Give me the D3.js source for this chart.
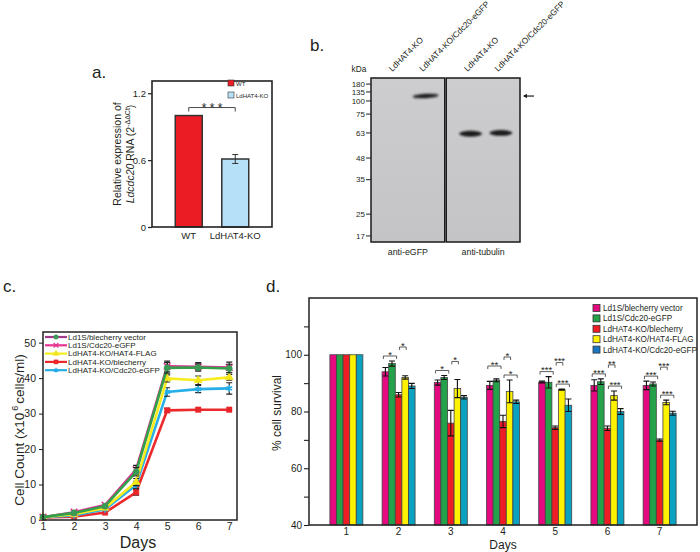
<!DOCTYPE html>
<html><head><meta charset="utf-8">
<script src="https://cdn.jsdelivr.net/npm/d3@7"></script>
<style>body{margin:0;background:#fff}svg{display:block}text{font-family:'Liberation Sans',Arial,sans-serif;fill:#231f20}</style>
</head><body><svg id="fig" width="700" height="552"></svg>
<script>
// ---------- Panel a data ----------
const aGroups = ["WT", "LdHAT4-KO"];
const aValues = [1.0, 0.61];
const aErrors = [0.0, 0.04];
const aColors = ["#ec1c24", "#b5e0f7"];
const aTicks = [0, 0.6, 1.2];
const aSig = "* * *";

// ---------- Panel b data ----------
const bLanes = ["LdHAT4-KO", "LdHAT4-KO/Cdc20-eGFP"];
const bBlots = ["anti-eGFP", "anti-tubulin"];
const bMarkers = [180, 135, 100, 75, 63, 48, 35, 25, 17];
const bMarkerMobility = [0.037, 0.085, 0.14, 0.22, 0.335, 0.488, 0.62, 0.83, 0.963];
const bBandsEGFP = [null, 0.11];
const bBandsTubulin = [0.34, 0.335];

// ---------- Panel c data ----------
const cDays = [1, 2, 3, 4, 5, 6, 7];
const cNames = ["Ld1S/blecherry vector", "Ld1S/Cdc20-eGFP", "LdHAT4-KO/HAT4-FLAG", "LdHAT4-KO/blecherry", "LdHAT4-KO/Cdc20-eGFP"];
const cBlecherryVector = [0.8, 2.0, 3.9, 13.6, 42.9, 43.0, 42.7];
const cCdc20WT = [0.8, 2.2, 4.2, 14.2, 43.3, 43.2, 43.0];
const cHat4Flag = [0.8, 1.6, 3.4, 10.7, 39.9, 39.4, 40.2];
const cKoBlecherry = [0.7, 0.9, 2.1, 7.8, 30.9, 31.1, 31.1];
const cKoCdc20 = [0.8, 1.3, 3.0, 9.9, 36.1, 36.9, 37.1];
const cErrBlecherryVector = [0.2, 0.3, 0.4, 1.2, 1.5, 1.0, 1.2];
const cErrCdc20WT = [0.2, 0.3, 0.4, 1.2, 1.5, 1.2, 1.5];
const cErrHat4Flag = [0.2, 0.2, 0.3, 1.0, 1.0, 1.2, 0.8];
const cErrKoBlecherry = [0.2, 0.2, 0.3, 0.8, 0.6, 0.3, 0.3];
const cErrKoCdc20 = [0.2, 0.2, 0.3, 1.0, 1.2, 1.0, 1.6];
const cYTicks = [0, 10, 20, 30, 40, 50];

// ---------- Panel d data ----------
const dDays = [1, 2, 3, 4, 5, 6, 7];
const dNames = ["Ld1S/blecherry vector", "Ld1S/Cdc20-eGFP", "LdHAT4-KO/blecherry", "LdHAT4-KO/HAT4-FLAG", "LdHAT4-KO/Cdc20-eGFP"];
const dBlecherryVector = [100, 94.0, 90.2, 89.2, 90.4, 89.2, 89.2];
const dCdc20WT = [100, 96.9, 92.0, 91.0, 90.3, 90.5, 89.7];
const dKoBlecherry = [100, 85.9, 75.9, 76.5, 74.3, 74.1, 69.9];
const dHat4Flag = [100, 92.0, 88.1, 87.1, 87.7, 85.6, 83.2];
const dKoCdc20 = [100, 89.0, 85.0, 83.4, 82.2, 80.0, 79.4];
const dErrBlecherryVector = [0, 1.5, 0.9, 1.4, 0.3, 2.0, 1.5];
const dErrCdc20WT = [0, 0.9, 0.7, 0.5, 2.0, 1.0, 0.7];
const dErrKoBlecherry = [0, 0.8, 4.5, 2.2, 0.6, 0.8, 0.4];
const dErrHat4Flag = [0, 0.6, 3.2, 4.0, 0.2, 1.6, 0.8];
const dErrKoCdc20 = [0, 0.9, 0.6, 0.6, 2.2, 1.0, 0.7];
const dYTicks = [40, 50, 60, 70, 80, 90, 100, 110];
const dSigDay   = [2, 2, 3, 3, 4, 4, 4, 5, 5, 5, 6, 6, 6, 7, 7, 7];
const dSigFrom  = [0, 2, 0, 2, 0, 2, 2, 0, 2, 2, 0, 2, 2, 0, 2, 2];
const dSigTo    = [2, 3, 2, 3, 2, 3, 4, 2, 3, 4, 2, 3, 4, 2, 3, 4];
const dSigLabel = ["*", "*", "*", "*", "**", "*", "*", "***", "***", "***", "***", "**", "***", "***", "***", "***"];

// ================== drawing ==================
const svg = d3.select("#fig");
const ink = "#231f20";

function panelLabel(txt, x, y) {
  svg.append("text").attr("x", x).attr("y", y).attr("font-size", 17).text(txt);
}

// ---------- Panel a ----------
(function () {
  const g = svg.append("g");
  const x = d3.scaleBand().domain(aGroups).range([152, 272]).paddingInner(0.42).paddingOuter(0.5);
  const y = d3.scaleLinear().domain([0, 1.31]).range([227, 81]);
  panelLabel("a.", 92, 78);
  const ax = g.append("g").attr("transform", "translate(152,0)")
    .call(d3.axisLeft(y).tickValues(aTicks).tickSize(4).tickPadding(2)
      .tickFormat(d => d === 0 ? "0" : d3.format(".1f")(d)));
  ax.select(".domain").remove();
  ax.selectAll("line").attr("stroke", ink).attr("stroke-width", 1.2);
  ax.selectAll("text").attr("font-size", 9.5).attr("fill", ink);

  g.selectAll("rect.bar").data(aGroups).join("rect").attr("class", "bar")
    .attr("x", d => x(d)).attr("width", x.bandwidth())
    .attr("y", (d, i) => y(aValues[i])).attr("height", (d, i) => y(0) - y(aValues[i]))
    .attr("fill", (d, i) => aColors[i]).attr("stroke", "#333").attr("stroke-width", 1.5);

  aGroups.forEach((d, i) => {
    if (!aErrors[i]) return;
    const cx = x(d) + x.bandwidth() / 2;
    const lo = y(aValues[i] - aErrors[i]), hi = y(aValues[i] + aErrors[i]);
    g.append("line").attr("x1", cx).attr("x2", cx).attr("y1", lo).attr("y2", hi).attr("stroke", "#333").attr("stroke-width", 1);
    [lo, hi].forEach(v => g.append("line").attr("x1", cx - 3).attr("x2", cx + 3).attr("y1", v).attr("y2", v).attr("stroke", "#333").attr("stroke-width", 1));
  });

  g.append("rect").attr("x", 152).attr("y", 81).attr("width", 120).attr("height", 146)
    .attr("fill", "none").attr("stroke", "#222").attr("stroke-width", 1.6);

  // significance bracket
  const x1 = x(aGroups[0]) + x.bandwidth() / 2, x2 = x(aGroups[1]) + x.bandwidth() / 2;
  const by = y(d3.max(aValues.map((v, i) => v + aErrors[i]))) - 8;
  g.append("path").attr("d", `M${x1},${by + 4}V${by}H${x2}V${by + 4}`).attr("fill", "none").attr("stroke", "#333").attr("stroke-width", 0.9);
  g.append("text").attr("x", (x1 + x2) / 2).attr("y", by + 4).attr("text-anchor", "middle").attr("font-size", 12).text(aSig);

  // legend
  aGroups.forEach((d, i) => {
    g.append("rect").attr("x", 228).attr("y", 80 + i * 12).attr("width", 6).attr("height", 6)
      .attr("fill", aColors[i]).attr("stroke", "#333").attr("stroke-width", 0.6);
    g.append("text").attr("x", 236).attr("y", 86 + i * 12).attr("font-size", 6).text(d);
  });

  g.selectAll("text.xl").data(aGroups).join("text").attr("class", "xl")
    .attr("x", d => x(d) + x.bandwidth() / 2).attr("y", 239).attr("text-anchor", "middle")
    .attr("font-size", 9.5).text(d => d);

  const yl = g.append("g").attr("transform", "translate(0,154)");
  yl.append("text").attr("transform", "translate(121,0) rotate(-90)").attr("text-anchor", "middle")
    .attr("font-size", 10.5).text("Relative expression of");
  const t2 = yl.append("text").attr("transform", "translate(134,0) rotate(-90)").attr("text-anchor", "middle").attr("font-size", 10.5);
  t2.append("tspan").attr("font-style", "italic").text("Ldcdc20");
  t2.append("tspan").text(" RNA (2");
  t2.append("tspan").attr("font-size", 7).attr("dy", -4).text("-ΔΔCt");
  t2.append("tspan").attr("dy", 4).text(")");
})();

// ---------- Panel b ----------
(function () {
  const g = svg.append("g");
  panelLabel("b.", 310, 51);
  const defs = svg.append("defs");
  const grad = defs.append("linearGradient").attr("id", "blotbg").attr("x1", 0).attr("y1", 0).attr("x2", 0).attr("y2", 1);
  grad.append("stop").attr("offset", 0).attr("stop-color", "#cdcdcf");
  grad.append("stop").attr("offset", 1).attr("stop-color", "#c4c4c7");
  defs.append("filter").attr("id", "bandblur").attr("x", "-30%").attr("y", "-100%").attr("width", "160%").attr("height", "300%")
    .append("feGaussianBlur").attr("stdDeviation", "1.1 0.9");

  const y = d3.scaleLinear().domain([0, 1]).range([78, 242]);
  const blotX = d3.scaleBand().domain(bBlots).range([371, 520]).paddingInner(0.02);
  const lane = d3.scalePoint().domain(bLanes).range([0, blotX.bandwidth()]).padding(0.717).align(0.56);

  bBlots.forEach((b, bi) => {
    const x0 = blotX(b);
    g.append("rect").attr("x", x0).attr("y", y(0)).attr("width", blotX.bandwidth()).attr("height", y(1) - y(0))
      .attr("fill", "url(#blotbg)");
    const bands = bi === 0 ? bBandsEGFP : bBandsTubulin;
    bLanes.forEach((l, li) => {
      const cx = x0 + lane(l);
      if (bands[li] != null) {
        const w = bi === 0 ? 13 : 11.5, h = bi === 0 ? 2.2 : 2.9;
        g.append("ellipse").attr("cx", cx).attr("cy", y(bands[li])).attr("rx", w).attr("ry", h)
          .attr("fill", "#1c1c1e").attr("filter", "url(#bandblur)")
          .attr("transform", bi === 0 ? `rotate(-3,${cx},${y(bands[li])})` : null);
      }
      g.append("text").attr("transform", `translate(${cx - 3},72) rotate(-45)`).attr("font-size", 8.3).text(l);
    });
    g.append("rect").attr("x", x0).attr("y", y(0)).attr("width", blotX.bandwidth()).attr("height", y(1) - y(0))
      .attr("fill", "none").attr("stroke", "#1a1a1a").attr("stroke-width", 1.5);
    g.append("text").attr("x", x0 + blotX.bandwidth() / 2).attr("y", 255).attr("text-anchor", "middle").attr("font-size", 8.8).text(b);
  });

  bMarkers.forEach((m, i) => {
    const yy = y(bMarkerMobility[i]);
    g.append("line").attr("x1", 366).attr("x2", 371).attr("y1", yy).attr("y2", yy).attr("stroke", ink).attr("stroke-width", 1);
    g.append("text").attr("x", 365).attr("y", yy + 2.8).attr("text-anchor", "end").attr("font-size", 8).text(m);
  });
  g.append("text").attr("x", 359).attr("y", 72).attr("text-anchor", "middle").attr("font-size", 8.3).text("kDa");

  // arrow pointing to eGFP band
  const ay = y(bBandsEGFP[1]);
  g.append("line").attr("x1", 524).attr("x2", 534).attr("y1", ay).attr("y2", ay).attr("stroke", ink).attr("stroke-width", 1.2);
  g.append("path").attr("d", `M523,${ay}l4,-2.2v4.4z`).attr("fill", ink);
})();

// ---------- Panel c ----------
(function () {
  const g = svg.append("g");
  panelLabel("c.", 3, 292);
  const x = d3.scaleLinear().domain([1, 7.25]).range([43, 237]);
  const y = d3.scaleLinear().domain([0, 53]).range([520, 332]);
  const series = [
    { name: cNames[3], v: cKoBlecherry, e: cErrKoBlecherry, line: "#ec2a2c", mark: "#e8262a", sym: d3.symbolSquare, fill: true, legLine: "#ec2a2c" },
    { name: cNames[4], v: cKoCdc20, e: cErrKoCdc20, line: "#27aee8", mark: "#27aee8", sym: d3.symbolAsterisk || d3.symbolStar, fill: false, legLine: "#27aee8" },
    { name: cNames[2], v: cHat4Flag, e: cErrHat4Flag, line: "#f7ec1e", mark: "#f2e61a", sym: d3.symbolTriangle, fill: true, legLine: "#f7ec1e" },
    { name: cNames[1], v: cCdc20WT, e: cErrCdc20WT, line: "#d9338f", mark: "#e0338f", sym: d3.symbolX || d3.symbolCross, fill: false, legLine: "#e8348f" },
    { name: cNames[0], v: cBlecherryVector, e: cErrBlecherryVector, line: "#33a04a", mark: "#3a9a55", sym: d3.symbolCircle, fill: true, legLine: "#a13a8c" }
  ];

  const ax = g.append("g").attr("transform", "translate(43,0)")
    .call(d3.axisLeft(y).tickValues(cYTicks).tickSize(4).tickPadding(3));
  ax.select(".domain").remove();
  ax.selectAll("line").attr("stroke", ink);
  ax.selectAll("text").attr("font-size", 10.5).attr("fill", ink);
  const bx = g.append("g").attr("transform", "translate(0,520)")
    .call(d3.axisBottom(x).tickValues(cDays).tickSize(0).tickPadding(3).tickFormat(d3.format("d")));
  bx.select(".domain").remove();
  bx.selectAll("text").attr("font-size", 10.5).attr("fill", ink);

  const line = d3.line().x((d, i) => x(cDays[i])).y(d => y(d));
  series.forEach(s => {
    g.append("path").datum(s.v).attr("d", line).attr("fill", "none").attr("stroke", s.line).attr("stroke-width", 2.6);
    s.v.forEach((v, i) => {
      const cx = x(cDays[i]);
      if (s.e[i] > 0.5) {
        const lo = y(v - s.e[i]), hi = y(v + s.e[i]);
        g.append("path").attr("d", `M${cx},${lo}V${hi}M${cx - 3},${lo}h6M${cx - 3},${hi}h6`).attr("stroke", "#222").attr("stroke-width", 1.1).attr("fill", "none");
      }
      g.append("path").attr("d", d3.symbol(s.sym, 30)()).attr("transform", `translate(${cx},${y(v)})`)
        .attr("fill", s.fill ? s.mark : "none").attr("stroke", s.mark).attr("stroke-width", s.fill ? 0.5 : 1.6);
    });
  });

  g.append("rect").attr("x", 43).attr("y", 332).attr("width", 194).attr("height", 188)
    .attr("fill", "none").attr("stroke", "#222").attr("stroke-width", 1.5);

  // legend (original order)
  const legOrder = [4, 3, 2, 0, 1];
  legOrder.forEach((si, r) => {
    const s = series[si];
    const ly = 337 + r * 8.3;
    g.append("line").attr("x1", 45).attr("x2", 67).attr("y1", ly).attr("y2", ly).attr("stroke", s.legLine).attr("stroke-width", 2.2);
    g.append("path").attr("d", d3.symbol(s.sym, 16)()).attr("transform", `translate(56,${ly})`)
      .attr("fill", s.fill ? s.mark : "none").attr("stroke", s.mark).attr("stroke-width", s.fill ? 0.5 : 1.2);
    g.append("text").attr("x", 68).attr("y", ly + 2.8).attr("font-size", 8).text(s.name);
  });

  g.append("text").attr("x", 138).attr("y", 548).attr("text-anchor", "middle").attr("font-size", 16).text("Days");
  const yl = g.append("text").attr("transform", "translate(24,430) rotate(-90)").attr("text-anchor", "middle").attr("font-size", 13.5);
  yl.append("tspan").text("Cell Count (x10");
  yl.append("tspan").attr("font-size", 9).attr("dy", -6).attr("dx", 2).text("6");
  yl.append("tspan").attr("dy", 6).attr("dx", 2).text("cells/ml)");
})();

// ---------- Panel d ----------
(function () {
  const g = svg.append("g");
  panelLabel("d.", 266, 292);
  const x = d3.scaleBand().domain(dDays).range([309, 697]).paddingInner(0.368).paddingOuter(0.4);
  const idx = d3.range(dNames.length);
  const sub = d3.scaleBand().domain(idx).range([0, x.bandwidth()]);
  const y = d3.scaleLinear().domain([40, 120]).range([525, 298]);
  const vals = [dBlecherryVector, dCdc20WT, dKoBlecherry, dHat4Flag, dKoCdc20];
  const errs = [dErrBlecherryVector, dErrCdc20WT, dErrKoBlecherry, dErrHat4Flag, dErrKoCdc20];
  const colors = ["#e5097f", "#23a24a", "#ee1d25", "#fff200", "#0aa2c0"];
  const legColors = ["#e5097f", "#23a24a", "#ee1d25", "#fff200", "#1a78c2"];

  const ax = g.append("g").attr("transform", "translate(309,0)")
    .call(d3.axisLeft(y).tickValues(dYTicks).tickSize(5).tickPadding(2).tickFormat(d => d % 20 === 0 ? d : ""));
  ax.select(".domain").remove();
  ax.selectAll("line").attr("stroke", ink).attr("stroke-width", 1.1);
  ax.selectAll("text").attr("font-size", 10).attr("fill", ink);
  const bx = g.append("g").attr("transform", "translate(0,525)")
    .call(d3.axisBottom(x).tickSize(0).tickPadding(3));
  bx.select(".domain").remove();
  bx.selectAll("text").attr("font-size", 10).attr("fill", ink);

  dDays.forEach((day, di) => {
    idx.forEach(si => {
      const v = vals[si][di], bxp = x(day) + sub(si);
      g.append("rect").attr("x", bxp).attr("width", sub.bandwidth()).attr("y", y(v)).attr("height", y(40) - y(v))
        .attr("fill", colors[si]).attr("stroke", "#444").attr("stroke-width", 0.8);
    });
    idx.forEach(si => {
      const e = errs[si][di];
      if (!e) return;
      const v = vals[si][di], cx = x(day) + sub(si) + sub.bandwidth() / 2;
      const lo = y(v - e), hi = y(v + e);
      g.append("path").attr("d", `M${cx},${lo}V${hi}M${cx - 3},${lo}h6M${cx - 3},${hi}h6`)
        .attr("stroke", "#111").attr("stroke-width", 1.1).attr("fill", "none");
    });
  });

  // significance brackets
  const sig = dSigDay.map((d, i) => ({ day: d, from: dSigFrom[i], to: dSigTo[i], label: dSigLabel[i] }));
  sig.sort((a, b) => (a.day - b.day) || ((b.to - b.from) - (a.to - a.from)) || (b.from - a.from));
  const placed = [];
  sig.forEach(s => {
    const di = dDays.indexOf(s.day);
    let top = 0;
    for (let k = s.from; k <= s.to; k++) top = Math.max(top, vals[k][di] + errs[k][di]);
    let by = y(top) - 5;
    placed.filter(p => p.day === s.day && p.from <= s.to && s.from <= p.to)
      .forEach(p => { by = Math.min(by, p.y - 9); });
    s.y = by;
    placed.push(s);
    const cx = k => x(s.day) + sub(k) + sub.bandwidth() / 2;
    const x1 = cx(s.from) + (s.from === 2 ? 1 : -2), x2 = cx(s.to) + (s.to === 2 ? -2 : 1);
    g.append("path").attr("d", `M${x1},${by + 3}V${by}H${x2}V${by + 3}`).attr("fill", "none").attr("stroke", "#333").attr("stroke-width", 0.8);
    g.append("text").attr("x", (x1 + x2) / 2).attr("y", by + 1.8).attr("text-anchor", "middle").attr("font-size", 9.5).text(s.label);
  });

  g.append("rect").attr("x", 309).attr("y", 298).attr("width", 388).attr("height", 227)
    .attr("fill", "none").attr("stroke", "#222").attr("stroke-width", 1.5);

  dNames.forEach((n, i) => {
    const ly = 308 + i * 10.4;
    g.append("rect").attr("x", 593).attr("y", ly - 3.5).attr("width", 7).attr("height", 7)
      .attr("fill", legColors[i]).attr("stroke", "#333").attr("stroke-width", 0.8);
    g.append("text").attr("x", 603).attr("y", ly + 3).attr("font-size", 8.2).text(n);
  });

  g.append("text").attr("x", 503).attr("y", 548.5).attr("text-anchor", "middle").attr("font-size", 12).text("Days");
  g.append("text").attr("transform", "translate(281,413) rotate(-90)").attr("text-anchor", "middle").attr("font-size", 12).text("% cell survival");
})();
</script></body></html>
